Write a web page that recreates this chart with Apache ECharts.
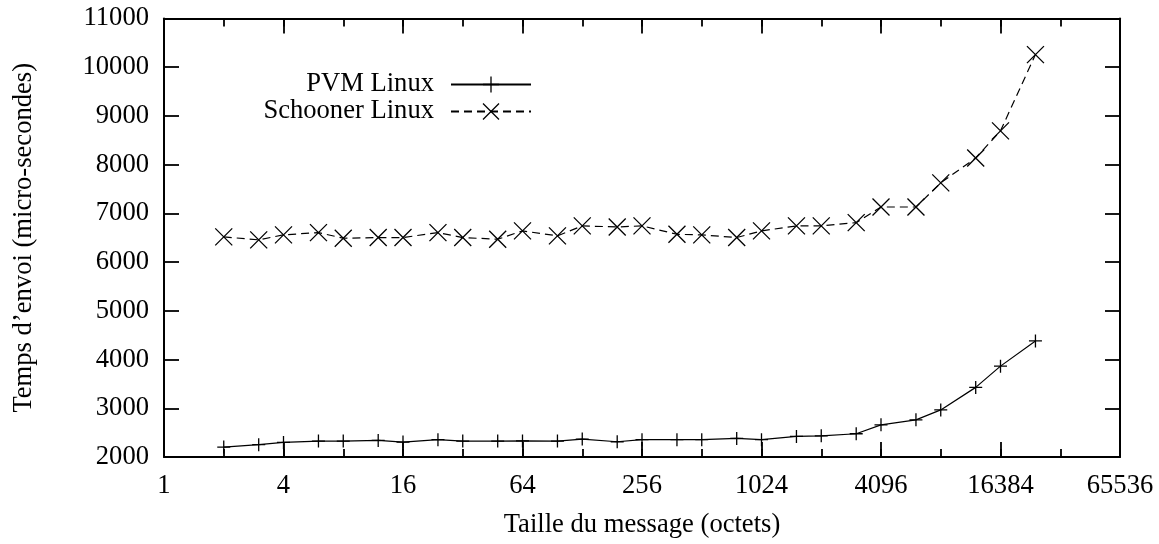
<!DOCTYPE html>
<html><head><meta charset="utf-8">
<script src="https://cdn.jsdelivr.net/npm/echarts@6/dist/echarts.min.js"></script>
<style>html,body{margin:0;padding:0;background:#fff}#c{width:1159px;height:544px}</style>
</head><body><div id="c"></div>
<script>
// Message sizes (bytes)
const sizes = [2,3,4,6,8,12,16,24,32,48,64,96,128,192,256,384,512,768,1024,1536,2048,3072,4096,6144,8192,12288,16384,24576];
// Send times (micro-seconds)
const pvmLinux = [2204,2253,2300,2327,2327,2340,2306,2355,2327,2327,2330,2327,2367,2313,2355,2355,2355,2381,2355,2422,2435,2477,2660,2763,2967,3429,3865,4382];
const schoonerLinux = [6518,6457,6559,6606,6490,6504,6504,6606,6504,6469,6641,6539,6743,6722,6743,6571,6559,6504,6641,6743,6743,6810,7131,7131,7627,8137,8694,10259];
const seriesNames = ['PVM Linux', 'Schooner Linux'];
const xMin = 1, xMax = 65536;
const yMin = 2000, yMax = 11000, yStep = 1000;
const xTitle = 'Taille du message (octets)';
const yTitle = 'Temps d\u2019envoi (micro-secondes)';

const FONT = '"Liberation Serif", "Times New Roman", serif';
const FS = 26.6;
const BLACK = '#000';
const PLUS = 'path://M5,0L5,10M0,5L10,5';
const CROSS = 'path://M0,0L10,10M0,10L10,0';

const lineAx = {show: true, onZero: false, lineStyle: {color: BLACK, width: 2}};
const majorTick = {show: true, inside: true, length: 15, lineStyle: {color: BLACK, width: 1.8}};
const minorTickAx = {show: true, inside: true, length: 8, lineStyle: {color: BLACK, width: 1.8}};
const lblX = {color: BLACK, fontFamily: FONT, fontSize: FS, margin: 16, formatter: v => String(v)};
const lblY = {color: BLACK, fontFamily: FONT, fontSize: FS, margin: 15, formatter: v => String(v)};

function xAx(pos, interval, tick, showLine, showLabel, extra) {
  return Object.assign({
    type: 'log', logBase: 2, min: xMin, max: xMax, interval: interval, position: pos,
    axisLine: showLine ? lineAx : {show: false},
    axisTick: tick,
    axisLabel: showLabel ? lblX : {show: false},
    splitLine: {show: false}
  }, extra || {});
}

const option = {
  animation: false,
  backgroundColor: '#fff',
  grid: {left: 164, right: 39, top: 18.5, bottom: 83.3, containLabel: false},
  xAxis: [
    xAx('bottom', 2, majorTick, true, true, {
      name: xTitle, nameLocation: 'middle', nameGap: 55,
      nameTextStyle: {color: BLACK, fontFamily: FONT, fontSize: FS}
    }),
    xAx('bottom', 1, minorTickAx, false, false),
    xAx('top', 2, majorTick, true, false),
    xAx('top', 1, minorTickAx, false, false)
  ],
  yAxis: [
    {type: 'value', min: yMin, max: yMax, interval: yStep, position: 'left',
     axisLine: lineAx, axisTick: majorTick, axisLabel: lblY, splitLine: {show: false},
     name: yTitle, nameLocation: 'middle', nameGap: 126,
     nameTextStyle: {color: BLACK, fontFamily: FONT, fontSize: FS}},
    {type: 'value', min: yMin, max: yMax, interval: yStep, position: 'right',
     axisLine: lineAx, axisTick: majorTick, axisLabel: {show: false}, splitLine: {show: false}}
  ],
  legend: {
    orient: 'vertical', align: 'right', right: 627, top: 71, padding: 0,
    itemWidth: 80, itemHeight: 20, itemGap: 0, selectedMode: false,
    itemStyle: {borderWidth: 1.3},
    textStyle: {color: BLACK, fontFamily: FONT, fontSize: FS, padding: [0, 12, 0, 0]},
    data: seriesNames
  },
  series: [
    {name: seriesNames[0], type: 'line', xAxisIndex: 0, yAxisIndex: 0,
     data: sizes.map((s, i) => [s, pvmLinux[i]]),
     symbol: PLUS, symbolSize: 13, showAllSymbol: true,
     lineStyle: {color: BLACK, width: 1.2, type: 'solid'},
     itemStyle: {color: 'transparent', borderColor: BLACK, borderWidth: 1.3},
     emphasis: {disabled: true}},
    {name: seriesNames[1], type: 'line', xAxisIndex: 0, yAxisIndex: 0,
     data: sizes.map((s, i) => [s, schoonerLinux[i]]),
     symbol: CROSS, symbolSize: 17, showAllSymbol: true,
     lineStyle: {color: BLACK, width: 1.2, type: [8, 5]},
     itemStyle: {color: 'transparent', borderColor: BLACK, borderWidth: 1.3},
     emphasis: {disabled: true}}
  ]
};
const chart = echarts.init(document.getElementById('c'), null, {renderer: 'canvas'});
chart.setOption(option);
</script>
</body></html>
